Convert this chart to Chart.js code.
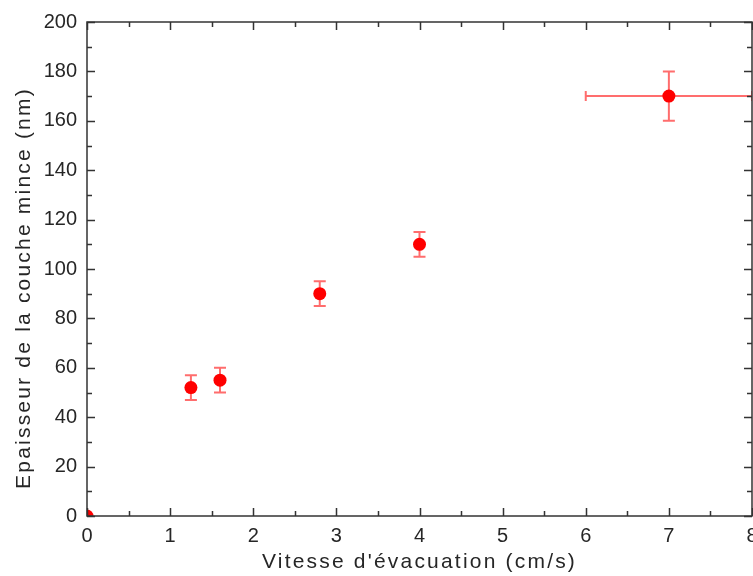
<!DOCTYPE html>
<html>
<head>
<meta charset="utf-8">
<script src="https://cdn.jsdelivr.net/npm/chart.js@4/dist/chart.umd.min.js"></script>
<style>
    body { margin: 0; background: #ffffff; }
    #wrap { width: 753px; height: 576px; }
</style>
</head>
<body>
<div id="wrap"><canvas id="thicknessChart" width="753" height="576"></canvas></div>
<script>
// values
var speeds = [0, 1.25, 1.6, 2.8, 4, 7];          // cm/s
var thickness = [0, 52, 55, 90, 110, 170];       // nm
var thicknessErr = [0, 5, 5, 5, 5, 10];          // +/- nm
var speedErr = [0, 0, 0, 0, 0, 1];               // +/- cm/s

var textColor = "#262626";
var frameColor = "#333333";
var errColor = "rgba(255, 60, 60, 0.75)";
var fontFamily = "Liberation Sans, Arial, sans-serif";

var points = [];
for (let i = 0; i < speeds.length; i++) {
    points.push({ x: speeds[i], y: thickness[i] });
}

// error bars, drawn under the markers
var errorBars = {
    id: "errorBars",
    beforeDatasetsDraw: function(chart) {
        let ctx = chart.ctx;
        let xs = chart.scales.x;
        let ys = chart.scales.y;
        let area = chart.chartArea;
        ctx.save();
        ctx.beginPath();
        ctx.rect(area.left, area.top, area.right - area.left, area.bottom - area.top);
        ctx.clip();
        ctx.strokeStyle = errColor;
        ctx.lineWidth = 2;
        let cap = 6;
        for (let i = 0; i < speeds.length; i++) {
            let px = xs.getPixelForValue(speeds[i]);
            let py = ys.getPixelForValue(thickness[i]);
            if (thicknessErr[i] > 0) {
                let y1 = ys.getPixelForValue(thickness[i] - thicknessErr[i]);
                let y2 = ys.getPixelForValue(thickness[i] + thicknessErr[i]);
                ctx.beginPath();
                ctx.moveTo(px, y1); ctx.lineTo(px, y2);
                ctx.moveTo(px - cap, y1); ctx.lineTo(px + cap, y1);
                ctx.moveTo(px - cap, y2); ctx.lineTo(px + cap, y2);
                ctx.stroke();
            }
            if (speedErr[i] > 0) {
                let x1 = xs.getPixelForValue(speeds[i] - speedErr[i]);
                let x2 = xs.getPixelForValue(speeds[i] + speedErr[i]);
                ctx.beginPath();
                ctx.moveTo(x1, py); ctx.lineTo(x2, py);
                ctx.moveTo(x1, py - 5); ctx.lineTo(x1, py + 5);
                ctx.moveTo(x2, py - 5); ctx.lineTo(x2, py + 5);
                ctx.stroke();
            }
        }
        ctx.restore();
    }
};

// closed frame with inward ticks on all four sides
var frame = {
    id: "frame",
    afterDraw: function(chart) {
        let ctx = chart.ctx;
        let xs = chart.scales.x;
        let ys = chart.scales.y;
        let a = chart.chartArea;
        ctx.save();
        ctx.strokeStyle = frameColor;
        ctx.lineWidth = 1.5;
        ctx.strokeRect(a.left, a.top, a.right - a.left, a.bottom - a.top);
        ctx.beginPath();
        for (let v = 0; v <= 8; v += 0.5) {
            let px = Math.round(xs.getPixelForValue(v)) + 0.5;
            let len = (v % 1 === 0) ? 8 : 5;
            ctx.moveTo(px, a.bottom); ctx.lineTo(px, a.bottom - len);
            ctx.moveTo(px, a.top); ctx.lineTo(px, a.top + len);
        }
        for (let v = 0; v <= 200; v += 10) {
            let py = Math.round(ys.getPixelForValue(v)) + 0.5;
            let len = (v % 20 === 0) ? 8 : 5;
            ctx.moveTo(a.left, py); ctx.lineTo(a.left + len, py);
            ctx.moveTo(a.right, py); ctx.lineTo(a.right - len, py);
        }
        ctx.stroke();
        ctx.restore();
    }
};

var chart = new Chart(document.getElementById("thicknessChart"), {
    type: "scatter",
    data: {
        datasets: [
            {
                label: "Epaisseur",
                data: points,
                backgroundColor: "#ff0000",
                borderColor: "#ff0000",
                pointRadius: 6.5,
                pointHoverRadius: 6.5,
                borderWidth: 0,
                clip: 0
            }
        ]
    },
    options: {
        responsive: false,
        animation: false,
        devicePixelRatio: 1,
        layout: {
            autoPadding: false,
            padding: { top: 21, right: 1, left: 0, bottom: 0 }
        },
        plugins: {
            legend: { display: false },
            tooltip: { enabled: false }
        },
        scales: {
            x: {
                type: "linear",
                min: 0,
                max: 8,
                grid: { display: false, drawTicks: false },
                border: { display: false },
                ticks: {
                    stepSize: 1,
                    padding: 8,
                    color: textColor,
                    font: { family: fontFamily, size: 20 }
                },
                title: {
                    display: true,
                    text: "Vitesse d'évacuation (cm/s)",
                    color: textColor,
                    padding: { top: 0, bottom: 1 },
                    font: { family: fontFamily, size: 21 }
                },
                afterFit: function(scale) {
                    scale.height = 60;
                    // let the last label run off the canvas, as in the original
                    scale.paddingRight = 0;
                    scale.paddingLeft = 0;
                }
            },
            y: {
                type: "linear",
                min: 0,
                max: 200,
                grid: { display: false, drawTicks: false },
                border: { display: false },
                ticks: {
                    stepSize: 20,
                    padding: 10,
                    color: textColor,
                    font: { family: fontFamily, size: 20 }
                },
                title: {
                    display: true,
                    text: "Epaisseur de la couche mince (nm)",
                    color: textColor,
                    padding: { top: 12, bottom: 0 },
                    font: { family: fontFamily, size: 21 }
                },
                afterFit: function(scale) { scale.width = 87; }
            }
        }
    },
    plugins: [errorBars, frame]
});

// the axis titles in the original are set with wide letter spacing,
// and the y title sits a little below the middle of the axis
var titleShift = { x: 0, y: 19 };
["x", "y"].forEach(function(id) {
    var scale = chart.scales[id];
    var drawTitle = scale.drawTitle;
    scale.drawTitle = function() {
        this.ctx.save();
        this.ctx.letterSpacing = "2.2px";
        this.ctx.translate(0, titleShift[id]);
        drawTitle.apply(this, arguments);
        this.ctx.restore();
    };
});
chart.draw();
</script>
</body>
</html>
